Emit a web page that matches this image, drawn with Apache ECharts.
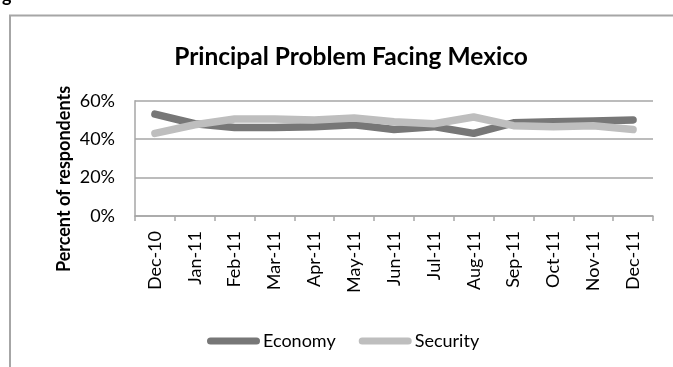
<!DOCTYPE html>
<html>
<head>
<meta charset="utf-8">
<script src="https://cdn.jsdelivr.net/npm/echarts@6/dist/echarts.min.js"></script>
<style>
  html, body { margin: 0; padding: 0; background: #ffffff; }
  #chart { width: 673px; height: 367px; }
</style>
</head>
<body>
<div id="chart"></div>
<script>
// Monthly survey: share of respondents naming each issue as the principal problem
var months = ['Dec-10', 'Jan-11', 'Feb-11', 'Mar-11', 'Apr-11', 'May-11', 'Jun-11',
              'Jul-11', 'Aug-11', 'Sep-11', 'Oct-11', 'Nov-11', 'Dec-11'];
var economy = [53, 48, 46, 46, 46.5, 47.5, 45, 46.5, 43, 48.5, 49, 49.5, 50];
var security = [43, 47.5, 50.5, 50.5, 50, 51, 49, 48, 51.5, 47, 46.5, 47, 45];
var yTicks = [0, 20, 40, 60];

var FONT = 'Lato';
var capsule = 'path://M3.5,0 L49.5,0 A3.5,3.5 0 0 1 49.5,7 L3.5,7 A3.5,3.5 0 0 1 3.5,0 Z';

var chart = echarts.init(document.getElementById('chart'), null, { renderer: 'canvas' });

chart.setOption({
  backgroundColor: '#ffffff',
  animation: false,
  title: {
    text: 'Principal Problem Facing Mexico',
    left: 346,
    textAlign: 'center',
    top: 40,
    textStyle: { fontFamily: FONT, fontWeight: 'bold', fontSize: 24.5, color: '#000000' }
  },
  graphic: [
    {
      type: 'rect',
      shape: { x: 10, y: 15.5, width: 700, height: 400 },
      style: { fill: 'none', stroke: '#a6a6a6', lineWidth: 2 },
      silent: true
    },
    {
      type: 'text',
      left: 2,
      top: -13,
      style: { text: 'g', fontFamily: FONT, fontWeight: 'bold', fontSize: 18, fill: '#000000' },
      silent: true
    },
    {
      // y-axis title, placed a little below the plot's centre
      type: 'text',
      x: 64,
      y: 179,
      rotation: Math.PI / 2,
      style: {
        text: 'Percent of respondents',
        fontFamily: FONT, fontWeight: 'bold', fontSize: 18, fill: '#000000',
        align: 'center', verticalAlign: 'middle'
      },
      silent: true
    }
  ],
  legend: {
    left: 202,
    top: 327,
    itemWidth: 53,
    itemHeight: 7,
    itemGap: 23,
    icon: capsule,
    textStyle: { fontFamily: FONT, fontSize: 18, color: '#000000', padding: [0, 0, 0, -2] },
    data: ['Economy', 'Security']
  },
  grid: { left: 135, right: 20, top: 100.7, bottom: 151, containLabel: false },
  xAxis: {
    type: 'category',
    data: months,
    boundaryGap: true,
    axisLine: { show: true, lineStyle: { color: '#a6a6a6', width: 1.5 } },
    axisTick: { show: true, length: 5, interval: 0, lineStyle: { color: '#a6a6a6', width: 1.5 } },
    axisLabel: { rotate: 90, interval: 0, margin: 15, fontFamily: FONT, fontSize: 18, color: '#000000' }
  },
  yAxis: {
    type: 'value',
    min: yTicks[0],
    max: yTicks[yTicks.length - 1],
    interval: 20,
    axisLine: { show: true, lineStyle: { color: '#a6a6a6', width: 1.5 } },
    axisTick: { show: false },
    splitLine: { show: true, lineStyle: { color: '#a6a6a6', width: 1.5 } },
    axisLabel: { margin: 20, fontFamily: FONT, fontSize: 18, color: '#000000', formatter: '{value}%' }
  },
  series: [
    {
      name: 'Economy',
      type: 'line',
      data: economy,
      symbol: 'none',
      color: '#777777',
      lineStyle: { width: 7.5, color: '#777777', cap: 'round', join: 'round' }
    },
    {
      name: 'Security',
      type: 'line',
      data: security,
      symbol: 'none',
      color: '#bebebe',
      lineStyle: { width: 7.5, color: '#bebebe', cap: 'round', join: 'round' }
    }
  ]
});
</script>
</body>
</html>
